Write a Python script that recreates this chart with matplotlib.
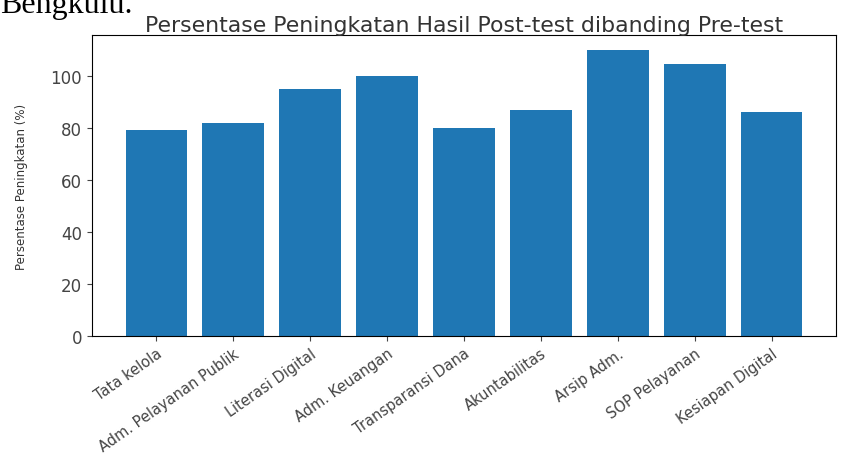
import matplotlib.pyplot as plt

# Data
categories = ['Tata kelola', 'Adm. Pelayanan Publik', 'Literasi Digital', 'Adm. Keuangan',
              'Transparansi Dana', 'Akuntabilitas', 'Arsip Adm.', 'SOP Pelayanan', 'Kesiapan Digital']
increase = [79.5, 82, 95.3, 100.3, 80.3, 86.9, 110.4, 105, 86.5]

fig = plt.figure(figsize=(8.49, 4.64), dpi=100)
ax = fig.add_axes([0.108, 0.274, 0.877, 0.648])

ax.bar(categories, increase, color='#1f77b4')
ax.set_title('Persentase Peningkatan Hasil Post-test dibanding Pre-test', fontsize=15.8,
             color='#333333', pad=3)
ax.set_ylabel('Persentase Peningkatan (%)', fontsize=8.5, color='#333333', labelpad=16)
ax.tick_params(axis='y', labelsize=12, colors='#444444')
ax.tick_params(axis='x', labelsize=10.5, colors='#444444')
plt.setp(ax.get_xticklabels(), rotation=35, ha='right', rotation_mode='anchor')

# text from the surrounding document, cut at the top
fig.text(0.0, 1 - 13 / 464, 'Bengkulu.', fontsize=23, family='Liberation Serif', va='baseline')

plt.savefig('out.png', dpi=100)
